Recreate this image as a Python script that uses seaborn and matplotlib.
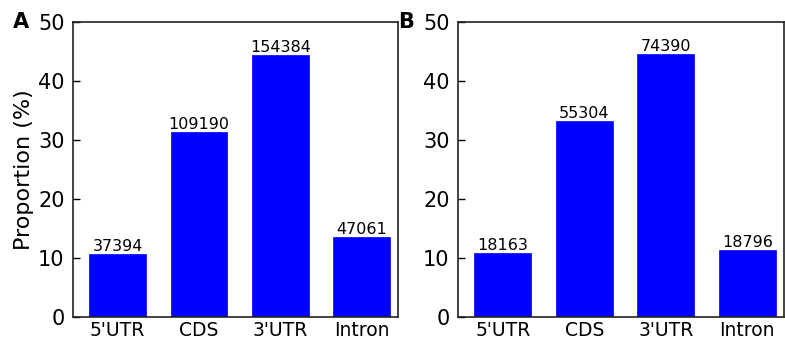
import matplotlib
matplotlib.use("Agg")
import matplotlib.pyplot as plt
import seaborn as sns
import pandas as pd

regions = ["5'UTR", "CDS", "3'UTR", "Intron"]
prop_a = [10.7, 31.4, 44.4, 13.5]
count_a = [37394, 109190, 154384, 47061]
prop_b = [10.9, 33.2, 44.6, 11.3]
count_b = [18163, 55304, 74390, 18796]

sns.set_theme(style="white")
plt.rcParams['font.family'] = ['DejaVu Sans']
plt.rcParams['text.color'] = 'black'
plt.rcParams['xtick.color'] = 'black'
plt.rcParams['ytick.color'] = 'black'
plt.rcParams['axes.labelcolor'] = 'black'

fig = plt.figure(figsize=(7.85, 3.39), dpi=100)
W, H = 785, 339
ax_a = fig.add_axes([73 / W, 1 - 317 / H, 325 / W, 295 / H])
ax_b = fig.add_axes([458 / W, 1 - 317 / H, 326 / W, 295 / H])

for ax, props, counts, letter in [(ax_a, prop_a, count_a, "A"), (ax_b, prop_b, count_b, "B")]:
    df = pd.DataFrame({"region": regions, "prop": props})
    sns.barplot(data=df, x="region", y="prop", color="#0000ff", saturation=1,
                width=0.7, edgecolor="#0000ff", linewidth=0.5, ax=ax)
    ax.bar_label(ax.containers[0], labels=[str(c) for c in counts], fontsize=11.5,
                 padding=0, color="black")
    ax.set_xlim(-0.55, 3.45)
    ax.set_ylim(0, 50)
    ax.set_yticks([0, 10, 20, 30, 40, 50])
    ax.set_xlabel("")
    ax.set_ylabel("")
    ax.tick_params(axis="y", direction="in", length=5, width=1, color="black",
                   labelsize=15, pad=6, left=True, right=False)
    ax.tick_params(axis="x", length=0, labelsize=13.5, pad=3)
    for s in ax.spines.values():
        s.set_color("#222222")
        s.set_linewidth(1.2)
    ax.text(-0.185, 1.0, letter, transform=ax.transAxes, fontsize=15, fontweight="bold",
            ha="left", va="center", color="black")

ax_a.set_ylabel("Proportion (%)", fontsize=16, labelpad=3)

fig.savefig("out.png", dpi=100)
